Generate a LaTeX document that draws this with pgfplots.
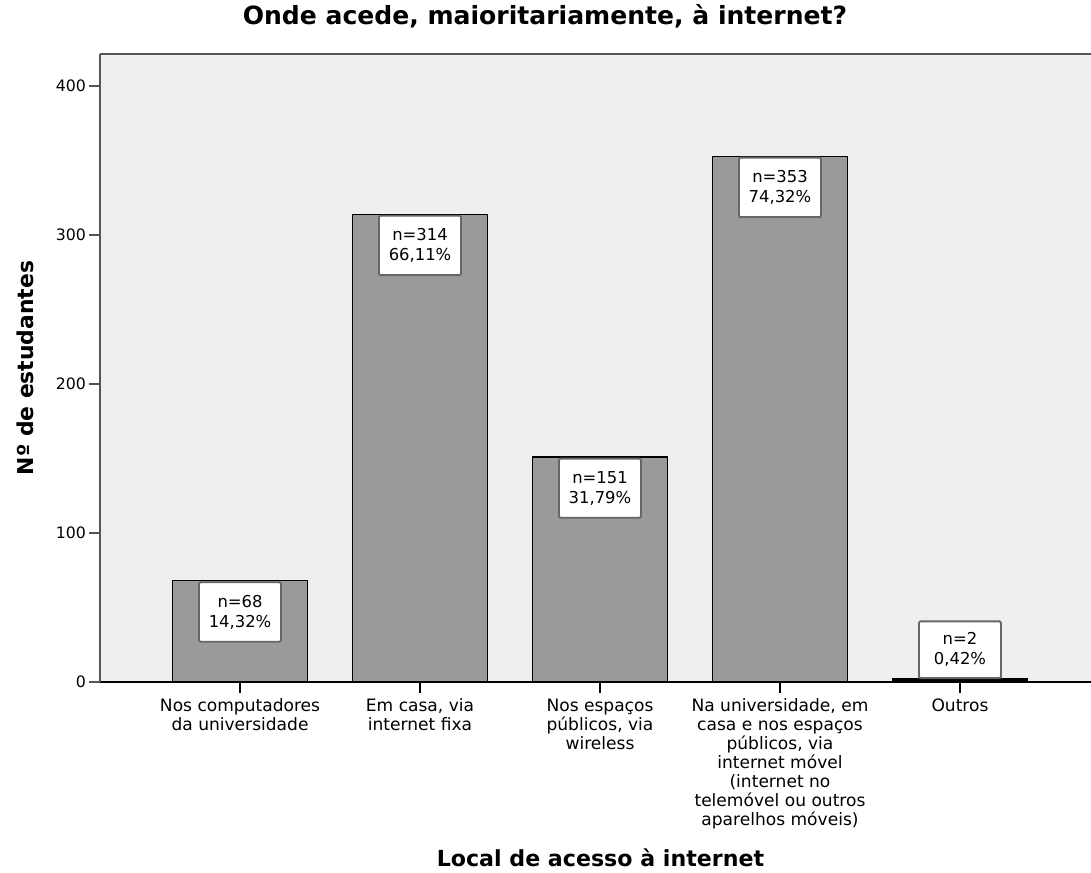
\documentclass[border=0pt]{standalone}
\usepackage{pgfplots}
\pgfplotsset{compat=1.18}
\usepackage{pgfplotstable}
\usepackage{fontspec}
\setmainfont{DejaVu Sans}
\newfontfamily\regf{DejaVu Sans}
\newfontfamily\boldf{DejaVu Sans Bold}
\definecolor{bgc}{HTML}{EFEFEF}
\definecolor{barc}{HTML}{9A9A9A}
\definecolor{axc}{HTML}{555555}
\definecolor{boxc}{HTML}{666666}

\pgfplotstableread{
x y lab
0 68  {n=68\\14,32\%}
1 314 {n=314\\66,11\%}
2 151 {n=151\\31,79\%}
3 353 {n=353\\74,32\%}
}\maindata
\pgfplotstableread{
x y lab
4 2 {n=2\\0,42\%}
}\smalldata

\begin{document}
\begin{tikzpicture}
\begin{axis}[
  at={(0,0)}, anchor=south west,
  scale only axis,
  width=743.25pt, height=471pt,
  xmin=-0.778, xmax=4.728,
  ymin=0, ymax=421.5,
  axis background/.style={fill=bgc},
  axis x line*=bottom,
  axis y line*=left,
  x axis line style={black, line width=0.8pt},
  y axis line style={axc, line width=1.5pt},
  tick align=outside,
  major tick length=8pt,
  xtick={0,1,2,3,4},
  xticklabels={{Nos computadores\\da universidade},{Em casa, via\\internet fixa},{Nos espaços\\públicos, via\\wireless},{Na universidade, em\\casa e nos espaços\\públicos, via\\internet móvel\\(internet no\\telemóvel ou outros\\aparelhos móveis)},{Outros}},
  x tick label style={align=center, font=\regf\fontsize{12.8}{14.25}\selectfont, yshift=-1.2pt},
  ytick={0,100,200,300,400},
  y tick label style={font=\regf\fontsize{11.8}{13}\selectfont},
  /pgf/number format/assume math mode=true,
  x tick style={black, line width=0.8pt},
  y tick style={axc, line width=1.5pt},
  yticklabel style={xshift=1pt},
  title={Onde acede, maioritariamente, à internet?},
  title style={at={(axis description cs:0.449,1.035)}, anchor=base, font=\boldf\fontsize{18.8}{22}\selectfont},
  xlabel={Local de acesso à internet},
  xlabel style={at={(axis description cs:0.505,-0.293)}, anchor=base, font=\boldf\fontsize{16.6}{20}\selectfont},
  ylabel={Nº de estudantes},
  ylabel style={at={(axis description cs:-0.0676,0.5)}, anchor=base, rotate=0, font=\boldf\fontsize{16.4}{20}\selectfont},
  ybar, bar width=101.25pt, bar shift=0pt,
  after end axis/.code={\draw[axc, line width=1.5pt] (rel axis cs:0,1) -- (rel axis cs:1,1);},
  clip=false,
]
\addplot[fill=barc, draw=black, line width=0.8pt,
  point meta=explicit symbolic,
  nodes near coords,
  every node near coord/.style={anchor=north, fill=white, draw=boxc, line width=1.4pt, rounded corners=1pt, align=center, minimum width=61.5pt, inner xsep=5.5pt, inner ysep=9.5pt, font=\regf\fontsize{12.3}{15}\selectfont, yshift=-0.5pt},
] table[x=x, y=y, meta=lab] {\maindata};
\addplot[fill=black, draw=black, line width=0.8pt,
  point meta=explicit symbolic,
  nodes near coords,
  every node near coord/.style={anchor=south, fill=white, draw=boxc, line width=1.4pt, rounded corners=1pt, align=center, minimum width=61.5pt, inner xsep=5.5pt, inner ysep=8.5pt, font=\regf\fontsize{12.3}{15}\selectfont, yshift=0pt},
] table[x=x, y=y, meta=lab] {\smalldata};
\end{axis}
\pgfresetboundingbox
\path (-75pt,-143.25pt) rectangle (743.25pt,511.5pt);
\end{tikzpicture}
\end{document}
